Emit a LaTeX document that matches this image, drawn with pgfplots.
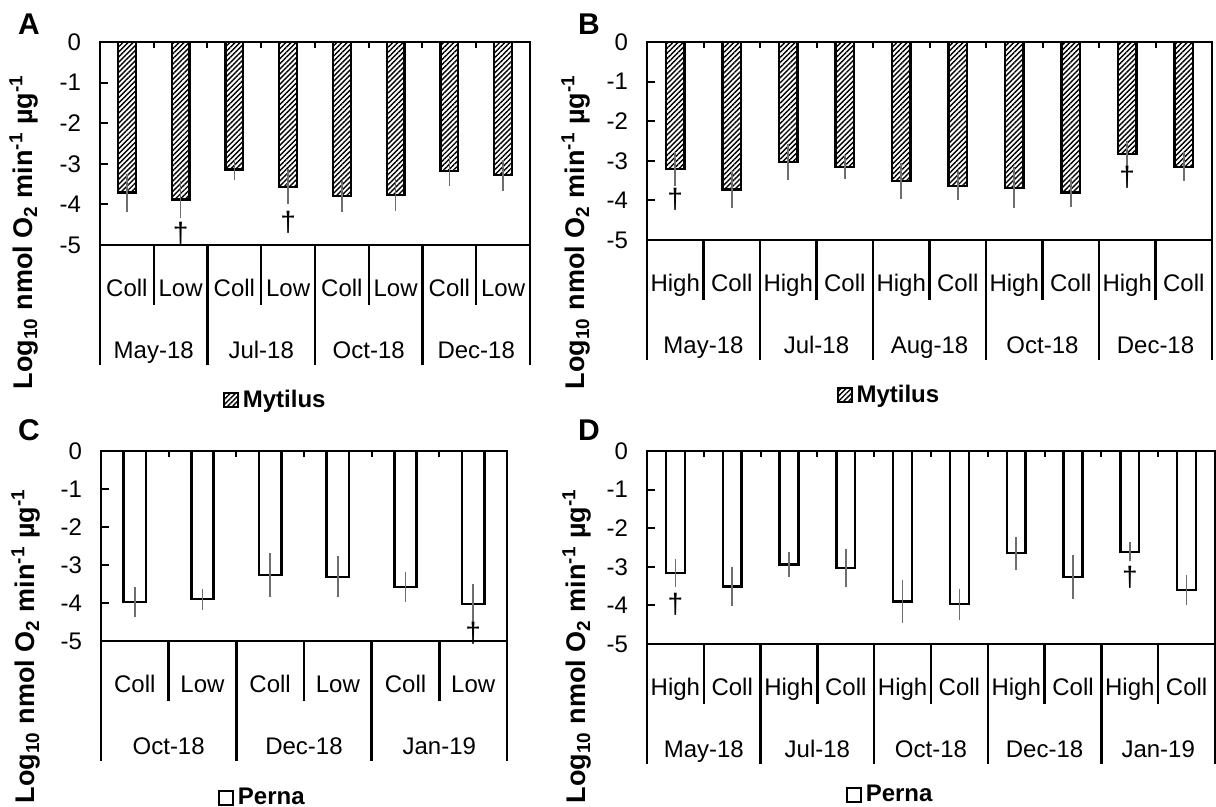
\documentclass[border=0pt]{standalone}
\usepackage{pgfplots}
\pgfplotsset{compat=1.18}
\usepackage{pgfplotstable}
\usetikzlibrary{patterns.meta}
\usepackage{fontspec}
\setmainfont{Liberation Sans}

\definecolor{errgray}{RGB}{110,110,110}

% log10 rates: bar value and error
\pgfplotstableread{
x y err
0 -3.71 0.47
1 -3.88 0.45
2 -3.14 0.27
3 -3.57 0.43
4 -3.80 0.38
5 -3.77 0.40
6 -3.18 0.37
7 -3.28 0.38
}\dataA
\pgfplotstableread{
x y err
0 -3.21 0.42
1 -3.72 0.46
2 -3.03 0.45
3 -3.15 0.30
4 -3.51 0.45
5 -3.63 0.37
6 -3.68 0.52
7 -3.80 0.36
8 -2.83 0.33
9 -3.15 0.36
}\dataB
\pgfplotstableread{
x y err
0 -3.98 0.39
1 -3.90 0.28
2 -3.26 0.57
3 -3.31 0.54
4 -3.58 0.39
5 -4.02 0.52
}\dataC
\pgfplotstableread{
x y err
0 -3.16 0.36
1 -3.51 0.50
2 -2.94 0.33
3 -3.03 0.49
4 -3.90 0.56
5 -3.97 0.40
6 -2.65 0.42
7 -3.26 0.57
8 -2.61 0.25
9 -3.60 0.38
}\dataD

\newcommand{\lbl}{\fontsize{12}{14}\selectfont}
\newcommand{\ylab}{\bfseries\fontsize{13.5}{16}\selectfont
  Log\textsubscript{10} nmol O\textsubscript{2} min\textsuperscript{-1} µg\textsuperscript{-1}}

\tikzset{month/.style={font=\lbl, anchor=base, yshift=-56.8pt},
  dag/.style={font=\fontsize{14}{16}\selectfont}}

\pgfplotsset{
  panel/.style={
    scale only axis,
    anchor=north west,
    ybar,
    bar width=0.33,
    ymin=-5, ymax=0,
    ytick={-5,-4,-3,-2,-1,0},
    yticklabels={-5,-4,-3,-2,-1,0},
    ytick pos=left,
    tick align=inside,
    major tick length=4pt,
    every tick/.style={black, line width=1pt},
    axis line style={line width=1.2pt},
    xtick=data,
    major x tick style={draw=none},
    xticklabel style={font=\lbl, anchor=base, yshift=-25.8pt},
    yticklabel style={font=\lbl, xshift=-6pt},
    clip=false,
    legend style={draw=none, fill=none, font=\bfseries\fontsize{12}{14}\selectfont,
      anchor=center, inner sep=0pt},
    legend image code/.code={\draw[#1, line width=0.9pt] (0pt,-3.5pt) rectangle (7pt,3.5pt);},
    error bars/y dir=both,
    error bars/y explicit,
    error bars/error mark=none,
    error bars/error bar style={errgray, line width=0.8pt},
  },
  hatched/.style={draw=black, line width=1.2pt,
    pattern={Lines[angle=45,distance=1.8pt,line width=0.7pt]}},
  plain/.style={draw=black, line width=1.2pt, fill=white},
}

\begin{document}
\begin{tikzpicture}
\useasboundingbox (0,0) rectangle (608pt,-403.5pt);

% ---------- A ----------
\begin{axis}[panel, at={(50pt,-21pt)}, width=215pt, height=101.5pt,
  xmin=-0.5, xmax=7.5,
  xticklabels={Coll,Low,Coll,Low,Coll,Low,Coll,Low},
  legend style={at={(0.41,0)}, yshift=-77.5pt}]
\addplot[hatched] table[x=x, y=y, y error=err] {\dataA};
\addlegendentry{Mytilus}
\pgfplotsinvokeforeach{0.5,1.5,2.5,3.5,4.5,5.5,6.5}{
  \draw[line width=1pt] (axis cs:#1,0) -- ++(0pt,-3pt);}
\pgfplotsinvokeforeach{0.5,2.5,4.5,6.5}{
  \draw[line width=1.2pt] (axis cs:#1,-5) -- ++(0pt,-30pt);}
\pgfplotsinvokeforeach{-0.5,1.5,3.5,5.5,7.5}{
  \draw[line width=1.2pt] (axis cs:#1,-5) -- ++(0pt,-60pt);}
\node[month] at (axis cs:0.5,-5) {May-18};
\node[month] at (axis cs:2.5,-5) {Jul-18};
\node[month] at (axis cs:4.5,-5) {Oct-18};
\node[month] at (axis cs:6.5,-5) {Dec-18};
\node[dag] at (axis cs:1,-4.7) {†};
\node[dag] at (axis cs:3,-4.45) {†};
\end{axis}

% ---------- B ----------
\begin{axis}[panel, at={(323.5pt,-21pt)}, width=282.5pt, height=99pt,
  xmin=-0.5, xmax=9.5,
  xticklabels={High,Coll,High,Coll,High,Coll,High,Coll,High,Coll},
  legend style={at={(0.43,0)}, yshift=-77.5pt}]
\addplot[hatched] table[x=x, y=y, y error=err] {\dataB};
\addlegendentry{Mytilus}
\pgfplotsinvokeforeach{0.5,1.5,2.5,3.5,4.5,5.5,6.5,7.5,8.5}{
  \draw[line width=1pt] (axis cs:#1,0) -- ++(0pt,-3pt);}
\pgfplotsinvokeforeach{0.5,2.5,4.5,6.5,8.5}{
  \draw[line width=1.2pt] (axis cs:#1,-5) -- ++(0pt,-30pt);}
\pgfplotsinvokeforeach{-0.5,1.5,3.5,5.5,7.5,9.5}{
  \draw[line width=1.2pt] (axis cs:#1,-5) -- ++(0pt,-60pt);}
\node[month] at (axis cs:0.5,-5) {May-18};
\node[month] at (axis cs:2.5,-5) {Jul-18};
\node[month] at (axis cs:4.5,-5) {Aug-18};
\node[month] at (axis cs:6.5,-5) {Oct-18};
\node[month] at (axis cs:8.5,-5) {Dec-18};
\node[dag] at (axis cs:0,-3.98) {†};
\node[dag] at (axis cs:8,-3.42) {†};
\end{axis}

% ---------- C ----------
\begin{axis}[panel, at={(50.5pt,-225.5pt)}, width=203pt, height=95pt,
  xmin=-0.5, xmax=5.5,
  xticklabels={Coll,Low,Coll,Low,Coll,Low},
  legend style={at={(0.40,0)}, yshift=-78.5pt}]
\addplot[plain] table[x=x, y=y, y error=err] {\dataC};
\addlegendentry{Perna}
\pgfplotsinvokeforeach{0.5,1.5,2.5,3.5,4.5}{
  \draw[line width=1pt] (axis cs:#1,0) -- ++(0pt,-3pt);}
\pgfplotsinvokeforeach{0.5,2.5,4.5}{
  \draw[line width=1.2pt] (axis cs:#1,-5) -- ++(0pt,-30pt);}
\pgfplotsinvokeforeach{-0.5,1.5,3.5,5.5}{
  \draw[line width=1.2pt] (axis cs:#1,-5) -- ++(0pt,-60pt);}
\node[month] at (axis cs:0.5,-5) {Oct-18};
\node[month] at (axis cs:2.5,-5) {Dec-18};
\node[month] at (axis cs:4.5,-5) {Jan-19};
\node[dag] at (axis cs:5,-4.8) {†};
\end{axis}

% ---------- D ----------
\begin{axis}[panel, at={(323.5pt,-225.5pt)}, width=284pt, height=96.5pt,
  xmin=-0.5, xmax=9.5,
  xticklabels={High,Coll,High,Coll,High,Coll,High,Coll,High,Coll},
  legend style={at={(0.43,0)}, yshift=-75.5pt}]
\addplot[plain] table[x=x, y=y, y error=err] {\dataD};
\addlegendentry{Perna}
\pgfplotsinvokeforeach{0.5,1.5,2.5,3.5,4.5,5.5,6.5,7.5,8.5}{
  \draw[line width=1pt] (axis cs:#1,0) -- ++(0pt,-3pt);}
\pgfplotsinvokeforeach{0.5,2.5,4.5,6.5,8.5}{
  \draw[line width=1.2pt] (axis cs:#1,-5) -- ++(0pt,-30pt);}
\pgfplotsinvokeforeach{-0.5,1.5,3.5,5.5,7.5,9.5}{
  \draw[line width=1.2pt] (axis cs:#1,-5) -- ++(0pt,-60pt);}
\node[month] at (axis cs:0.5,-5) {May-18};
\node[month] at (axis cs:2.5,-5) {Jul-18};
\node[month] at (axis cs:4.5,-5) {Oct-18};
\node[month] at (axis cs:6.5,-5) {Dec-18};
\node[month] at (axis cs:8.5,-5) {Jan-19};
\node[dag] at (axis cs:0,-3.98) {†};
\node[dag] at (axis cs:8,-3.28) {†};
\end{axis}

% y labels and panel letters
\node[rotate=90] at (12pt,-116pt) {\ylab};
\node[rotate=90] at (288pt,-116pt) {\ylab};
\node[rotate=90] at (13pt,-323pt) {\ylab};
\node[rotate=90] at (288.5pt,-323pt) {\ylab};
\node[font=\bfseries\fontsize{15}{17}\selectfont] at (14.5pt,-12pt) {A};
\node[font=\bfseries\fontsize{15}{17}\selectfont] at (294.5pt,-12pt) {B};
\node[font=\bfseries\fontsize{15}{17}\selectfont] at (14.5pt,-215pt) {C};
\node[font=\bfseries\fontsize{15}{17}\selectfont] at (294.5pt,-215pt) {D};
\end{tikzpicture}
\end{document}
